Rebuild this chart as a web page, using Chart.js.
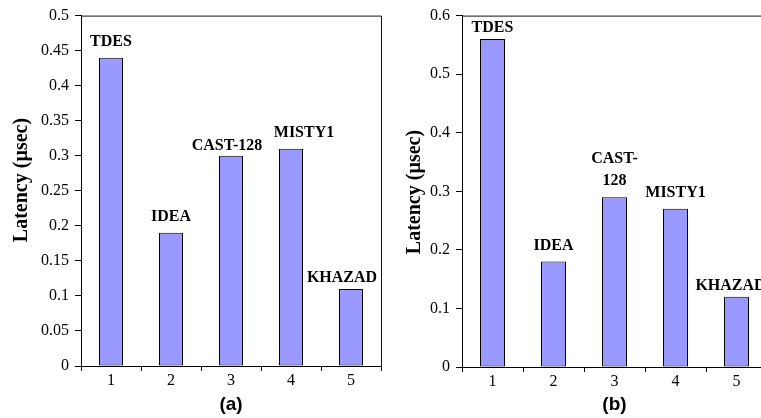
<!DOCTYPE html>
<html>
<head>
<meta charset="utf-8">
<script src="https://cdn.jsdelivr.net/npm/chart.js@4"></script>
<style>
    html, body { margin: 0; padding: 0; background: #fff; overflow: hidden; }
    #wrap { position: relative; width: 761px; height: 418px; overflow: hidden; }
    #chartA { position: absolute; left: 0; top: 0; }
    #chartB { position: absolute; left: 380px; top: 0; }
</style>
</head>
<body>
<div id="wrap">
    <canvas id="chartA" width="386" height="418"></canvas>
    <canvas id="chartB" width="400" height="418"></canvas>
</div>
<script>
// Data
const categories = ['1', '2', '3', '4', '5'];
const latencyA = [0.44, 0.19, 0.30, 0.31, 0.11];
const latencyB = [0.56, 0.18, 0.29, 0.27, 0.12];
const namesA = [['TDES'], ['IDEA'], ['CAST-128'], ['MISTY1'], ['KHAZAD']];
const namesB = [['TDES'], ['IDEA'], ['CAST-', '128'], ['MISTY1'], ['KHAZAD']];
const yTicksA = [0, 0.05, 0.1, 0.15, 0.2, 0.25, 0.3, 0.35, 0.4, 0.45, 0.5];
const yTicksB = [0, 0.1, 0.2, 0.3, 0.4, 0.5, 0.6];
const yTitle = 'Latency (µsec)';

const SERIF = "'Liberation Serif', 'Times New Roman', serif";
const SANS = "'Liberation Sans', Arial, sans-serif";

// Box line on top and right of plot area
const framePlugin = {
    id: 'frame',
    afterDraw(chart) {
        const { ctx, chartArea: a } = chart;
        ctx.save();
        ctx.strokeStyle = '#111';
        ctx.lineWidth = 1;
        ctx.beginPath();
        ctx.moveTo(a.left, a.top + 0.5);
        ctx.lineTo(a.right + 0.5, a.top + 0.5);
        ctx.lineTo(a.right + 0.5, a.bottom);
        ctx.stroke();
        ctx.restore();
    }
};

// Rotated y title, placed a little off the plot centre like the original
const yTitlePlugin = {
    id: 'ytitle',
    afterDraw(chart, args, opts) {
        const { ctx } = chart;
        ctx.save();
        ctx.translate(opts.x, opts.y);
        ctx.rotate(-Math.PI / 2);
        ctx.font = 'bold 20px ' + SERIF;
        ctx.fillStyle = '#000';
        ctx.textAlign = 'center';
        ctx.textBaseline = 'middle';
        ctx.fillText(yTitle, 0, 0);
        ctx.restore();
    }
};

// Cipher names above bars
const namePlugin = {
    id: 'names',
    afterDatasetsDraw(chart, args, opts) {
        const { ctx } = chart;
        const meta = chart.getDatasetMeta(0);
        ctx.save();
        ctx.font = 'bold 16px ' + SERIF;
        ctx.fillStyle = '#000';
        ctx.textAlign = 'center';
        ctx.textBaseline = 'alphabetic';
        meta.data.forEach((bar, i) => {
            const lines = opts.names[i];
            const x = bar.x + (opts.dx[i] || 0);
            const base = bar.y - opts.gap[i];
            lines.forEach((t, k) => {
                ctx.fillText(t, x, base - (lines.length - 1 - k) * 22);
            });
        });
        ctx.restore();
    }
};

function makeChart(id, values, names, ticks, maxY, opt) {
    return new Chart(document.getElementById(id), {
        type: 'bar',
        data: {
            labels: categories,
            datasets: [{
                data: values,
                backgroundColor: '#9999FF',
                borderColor: '#000',
                borderWidth: 1,
                borderSkipped: false,
                categoryPercentage: opt.catPct,
                barPercentage: 1
            }]
        },
        options: {
            responsive: false,
            animation: false,
            layout: { padding: { left: 0, top: 13, right: opt.padRight, bottom: 0 } },
            plugins: {
                legend: { display: false },
                tooltip: { enabled: false },
                names: { names: names, dx: opt.dx, gap: opt.gap },
                ytitle: { x: opt.titleX, y: opt.titleY }
            },
            scales: {
                x: {
                    afterFit: s => { s.height = opt.xHeight; },
                    grid: { display: true, drawOnChartArea: false, drawTicks: true, tickLength: 5, color: '#000', offset: true },
                    border: { color: '#000', width: 1 },
                    ticks: { color: '#000', font: { family: SERIF, size: 16 }, padding: 0 },
                    title: {
                        display: true, text: opt.caption, color: '#000',
                        font: { family: SANS, size: 19, weight: 'bold' },
                        padding: { top: 0, bottom: 2 }
                    }
                },
                y: {
                    min: 0, max: maxY,
                    afterFit: s => { s.width = opt.yWidth; },
                    afterBuildTicks: s => { s.ticks = ticks.map(v => ({ value: v })); },
                    grid: { display: true, drawOnChartArea: false, drawTicks: true, tickLength: 6, color: '#000' },
                    border: { color: '#000', width: 1 },
                    ticks: {
                        color: '#000', font: { family: SERIF, size: 16 }, padding: 6,
                        callback: v => String(+v.toFixed(2))
                    }
                }
            }
        },
        plugins: [framePlugin, namePlugin, yTitlePlugin]
    });
}

makeChart('chartA', latencyA, namesA, yTicksA, 0.5, {
    caption: '(a)', catPct: 0.4, padRight: 5, xHeight: 52, yWidth: 81, titleX: 22, titleY: 180,
    dx: [0, 0, -4, 13, -9], gap: [12, 12, 6, 12, 7]
});
makeChart('chartB', latencyB, namesB, yTicksB, 0.6, {
    caption: '(b)', catPct: 0.41, padRight: 13, xHeight: 51, yWidth: 82, titleX: 35, titleY: 192,
    dx: [0, 0, 0, 0, -6], gap: [7, 12, 12, 12, 7]
});
</script>
</body>
</html>
